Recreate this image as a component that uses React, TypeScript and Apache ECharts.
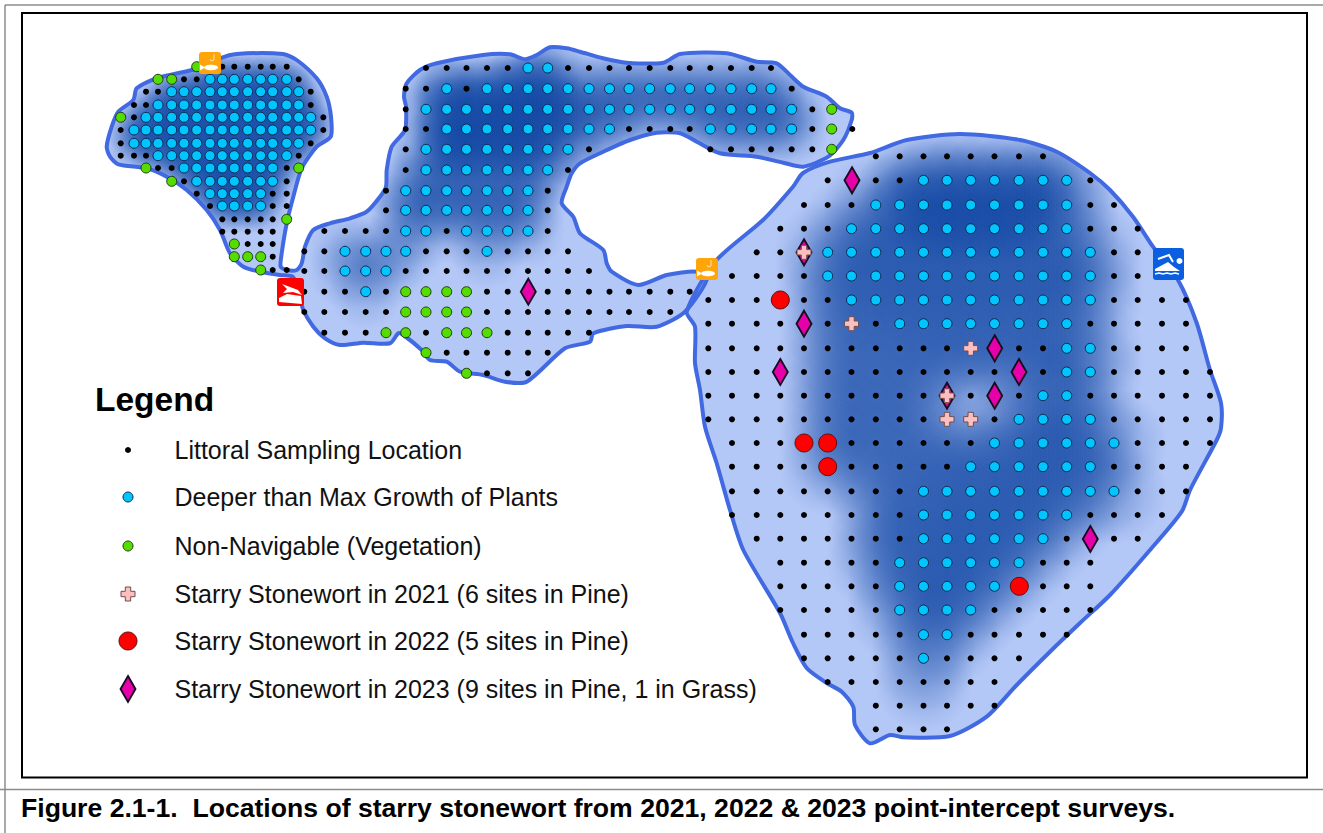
import React, { useEffect, useRef } from "react";
import * as echarts from "echarts";

const westX = [120.7, 134, 146, 158, 171.7, 184, 196.7, 210, 222.3, 234.3, 247.7, 260.7, 272.7, 286.7, 298.7, 310.7, 323.3];
const westY = [66.7, 79.3, 91.7, 105, 117.3, 130, 143.3, 155.7, 168, 181.3, 193.7, 206, 219.3, 231.7, 244, 256.7, 270];
const westBlackRuns = [[0, 8, 13], [1, 5, 6], [1, 14, 14], [2, 2, 3], [2, 15, 15], [3, 1, 2], [3, 15, 15], [4, 1, 1], [4, 16, 16], [5, 0, 0], [5, 16, 16], [6, 0, 0], [6, 15, 15], [7, 0, 2], [7, 14, 14], [8, 3, 4], [8, 13, 13], [9, 5, 5], [9, 13, 13], [10, 6, 6], [10, 12, 13], [11, 7, 7], [11, 12, 13], [12, 8, 12], [13, 8, 12], [14, 10, 12], [15, 12, 12], [16, 12, 13]];
const westCyanRuns = [[1, 7, 13], [2, 4, 14], [3, 3, 14], [4, 2, 15], [5, 1, 15], [6, 1, 14], [7, 3, 13], [8, 5, 12], [9, 6, 12], [10, 7, 11], [11, 8, 11]];
const westGreenRuns = [[0, 6, 6], [1, 3, 4], [4, 0, 0], [8, 2, 2], [8, 14, 14], [9, 4, 4], [12, 13, 13], [14, 9, 9], [15, 9, 11], [16, 11, 11]];

const midX = [304.3, 324.3, 345, 365.7, 386, 405.7, 426, 446.7, 466.5, 487, 507.7, 528, 547.7, 568, 589, 609.5, 629, 649.7, 670.3, 689.7, 710.3, 731, 751.7, 771, 791.7, 812.3, 831.7, 852.3];
const midY = [68, 88.7, 109.3, 129, 149.3, 170, 190.7, 210.3, 231, 251.3, 271, 291.7, 312, 332.7, 352.7, 373.3];
const midBlackRuns = [[0, 6, 10], [0, 13, 23], [1, 5, 6], [1, 8, 8], [1, 24, 24], [2, 5, 5], [2, 25, 25], [3, 5, 6], [3, 16, 19], [3, 25, 25], [3, 27, 27], [4, 5, 5], [4, 14, 14], [4, 20, 25], [5, 5, 5], [5, 13, 13], [6, 4, 4], [6, 12, 12], [7, 4, 4], [7, 12, 12], [8, 1, 4], [8, 7, 7], [8, 12, 12], [9, 0, 1], [9, 6, 8], [9, 10, 13], [10, 0, 1], [10, 5, 14], [11, 0, 2], [11, 4, 4], [11, 9, 10], [11, 12, 19], [12, 0, 4], [12, 9, 18], [13, 1, 3], [13, 6, 6], [13, 10, 14], [14, 7, 12], [15, 9, 11]];
const midCyanUpperRuns = [[0, 11, 12], [1, 7, 7], [1, 9, 23], [2, 6, 24], [3, 7, 15], [3, 20, 24], [4, 6, 13], [5, 6, 12], [6, 5, 11], [7, 5, 11]];
const midCyanLowerRuns = [[8, 5, 6], [8, 8, 11], [9, 2, 5], [9, 9, 9], [10, 2, 4], [11, 3, 3]];
const midDeepRuns = [[1, 7, 12], [2, 7, 13], [3, 7, 12], [4, 7, 11]];
const midGreenRuns = [[2, 26, 26], [3, 26, 26], [4, 26, 26], [11, 5, 8], [12, 5, 8], [13, 4, 5], [13, 7, 9], [14, 6, 6], [15, 8, 8]];

const eastX = [708.3, 732, 756.7, 780.3, 804, 827.7, 851.5, 875.8, 899.7, 923.5, 947, 970.7, 994.5, 1019, 1043, 1066.7, 1090.3, 1114, 1137.7, 1162, 1186, 1210];
const eastY = [156.3, 180.3, 205, 228.7, 252.3, 276, 300, 323.7, 348.3, 372, 395.7, 419.3, 443, 466.7, 491.3, 515, 538.7, 562.7, 586.3, 610, 634.7, 658.3, 682, 705.7, 729.3];
const eastBlackRuns = [[0, 7, 14], [1, 5, 5], [1, 7, 8], [1, 16, 16], [2, 4, 6], [2, 16, 17], [3, 3, 5], [3, 16, 18], [4, 2, 3], [4, 17, 18], [5, 1, 4], [5, 17, 18], [6, 0, 2], [6, 4, 5], [6, 17, 20], [7, 0, 3], [7, 5, 5], [7, 7, 7], [7, 16, 20], [8, 0, 10], [8, 13, 14], [8, 17, 20], [9, 0, 2], [9, 4, 12], [9, 14, 14], [9, 17, 21], [10, 0, 9], [10, 11, 11], [10, 13, 13], [10, 16, 21], [11, 0, 9], [11, 12, 12], [11, 17, 21], [12, 1, 3], [12, 6, 11], [12, 18, 21], [13, 1, 4], [13, 6, 10], [13, 17, 20], [14, 1, 8], [14, 18, 20], [15, 1, 8], [15, 16, 19], [16, 2, 8], [16, 15, 15], [16, 17, 18], [17, 3, 7], [17, 14, 16], [18, 3, 7], [18, 14, 16], [19, 3, 7], [19, 12, 16], [20, 4, 8], [20, 11, 15], [21, 4, 8], [21, 10, 13], [22, 5, 12], [23, 7, 12], [24, 7, 10]];
const eastCyanRuns = [[1, 9, 15], [2, 7, 15], [3, 6, 15], [4, 5, 16], [5, 5, 16], [6, 6, 16], [7, 8, 15], [8, 15, 16], [9, 15, 16], [10, 14, 15], [11, 13, 16], [12, 12, 17], [13, 11, 16], [14, 9, 17], [15, 9, 15], [16, 9, 14], [17, 8, 13], [18, 8, 12], [19, 8, 11], [20, 9, 10], [21, 9, 9]];
const eastMidDepthRuns = [[6, 5, 5], [7, 5, 7], [8, 5, 14], [9, 5, 14], [10, 5, 9], [11, 5, 9], [12, 5, 11], [13, 5, 10], [14, 7, 8], [15, 7, 8], [16, 7, 8], [17, 7, 7], [22, 9, 9]];
const eastDeepRuns = [[1, 8, 14], [2, 8, 14], [3, 9, 13]];

const starry2021 = [[804, 252.3], [851.5, 323.7], [970.7, 348.3], [947, 395.7], [947, 419.3], [970.7, 419.3]];
const starry2022 = [[780.3, 300], [804, 443], [827.7, 443], [827.7, 466.7], [1019.3, 586.3]];
const starry2023 = [[804, 252.3], [852, 180.3], [804, 323.7], [780.3, 372], [994.7, 348.3], [1019, 372], [947, 395.7], [994.7, 395.7], [1090.3, 539], [528.3, 291.7]];

const legendNames = [
  "Littoral Sampling Location",
  "Deeper than Max Growth of Plants",
  "Non-Navigable (Vegetation)",
  "Starry Stonewort in 2021 (6 sites in Pine)",
  "Starry Stonewort in 2022 (5 sites in Pine)",
  "Starry Stonewort in 2023 (9 sites in Pine, 1 in Grass)",
];
const legendY = [450, 497, 546, 594, 641, 689];
const legendMarkerX = 128;

const westMidShore = [[200, 68], [220, 58.3], [236.7, 54], [283, 54], [296.7, 60], [316.7, 78.3], [326.7, 96.7], [331, 116.7], [330.7, 136.7], [316.7, 146.7], [301.7, 168.3], [293.3, 196.7], [286.7, 223.3], [281.7, 253.3], [280.7, 266.7], [286.7, 270], [296.7, 270], [301.7, 263.3], [305, 246.7], [313.3, 230], [330, 223.3], [350, 218.3], [366.7, 211.7], [380, 196.7], [386, 186.7], [386.7, 170], [391.7, 146.7], [405, 130], [406, 106.7], [404, 96.7], [406.7, 83.3], [420, 70], [436.7, 63.3], [483, 55], [510, 54.3], [525, 59.3], [536.7, 55], [550, 47.3], [566.7, 48.3], [580, 51.7], [603, 58.3], [626.7, 62.7], [663.3, 62.7], [680, 54], [726.7, 53.3], [756.7, 61.7], [776.7, 63.3], [790, 75], [803.3, 86.7], [826.7, 96.7], [840, 108.3], [851.7, 112.7], [851.7, 120], [843.3, 140], [828.3, 156.7], [803.3, 166.7], [783.3, 162.7], [756.7, 156.7], [720, 153.3], [696.7, 141.7], [680, 133.3], [656.7, 132.7], [630, 140], [603.3, 151.7], [580, 163.3], [571.7, 173.3], [566.7, 186.7], [561.7, 203.3], [573.3, 216.7], [580, 233.3], [603.3, 250], [606.7, 263.3], [611.7, 271.7], [638.3, 285], [666.7, 275], [696.7, 271.7], [707, 279], [685, 311.7], [656.7, 326.7], [626.7, 326], [593.3, 333.3], [590, 341.7], [565, 348.3], [526.7, 381.7], [505, 381.7], [483.3, 375], [460, 371.7], [446.7, 361.7], [430, 360], [421.7, 350], [403.3, 335], [398.3, 333.3], [390, 343.3], [363.3, 342.7], [340, 345], [325, 338.3], [313.3, 326.7], [303.3, 310], [298, 290], [293, 277], [280, 275], [260, 271.7], [243.3, 266.7], [230, 253.3], [220, 230], [206.7, 210], [186.7, 190], [166.7, 176.7], [146.7, 168.3], [118.3, 164.3], [110, 156.7], [106.7, 146.7], [111.7, 126.7], [118.3, 111.7], [133.3, 100], [136.7, 88.3], [156.7, 78.3]];
const eastShore = [[686.7, 311.7], [695, 326.7], [695, 363], [700, 390], [705, 426.7], [716.7, 463.3], [730, 510], [743.3, 550], [780, 613], [793, 643], [806.7, 668], [826.7, 683], [841.7, 691.7], [853.3, 706.7], [855, 725], [870, 743.3], [890, 735], [903.3, 737.3], [950, 736], [986.7, 716.7], [1016.7, 685], [1050, 651.7], [1080, 623], [1110, 595], [1150, 550], [1181.7, 511.7], [1190, 490], [1216.7, 440], [1221, 428], [1221, 403], [1210, 370], [1196.7, 323], [1178, 280], [1153, 246.7], [1133, 216.7], [1110, 190], [1090, 173], [1056.7, 151.7], [1020, 140], [960, 134], [906.7, 140], [870, 153], [830, 161.7], [803, 173], [793, 186.7], [763, 220], [715, 261.7]];

const expand = (xs: number[], ys: number[], runs: number[][]) => {
  const out: number[][] = [];
  runs.forEach(([r, a, b]) => {
    for (let c = a; c <= b; c++) out.push([xs[c], ys[r]]);
  });
  return out;
};

const blackPts = [...expand(westX, westY, westBlackRuns), ...expand(midX, midY, midBlackRuns), ...expand(eastX, eastY, eastBlackRuns)];
const cyanPts = [...expand(westX, westY, westCyanRuns), ...expand(midX, midY, midCyanUpperRuns), ...expand(midX, midY, midCyanLowerRuns), ...expand(eastX, eastY, eastCyanRuns)];
const greenPts = [...expand(westX, westY, westGreenRuns), ...expand(midX, midY, midGreenRuns)];

const glow = (a: number, rgb = "10,65,160") =>
  new echarts.graphic.RadialGradient(0.5, 0.5, 0.5, [
    { offset: 0, color: `rgba(${rgb},${a})` },
    { offset: 0.55, color: `rgba(${rgb},${a * 0.62})` },
    { offset: 1, color: `rgba(${rgb},0)` },
  ]);

const shadeGroups = [
  { pts: expand(westX, westY, westCyanRuns), r: 28, a: 0.3, shore: 0 },
  { pts: expand(midX, midY, midCyanUpperRuns), r: 38, a: 0.28, shore: 0 },
  { pts: expand(midX, midY, midCyanLowerRuns), r: 38, a: 0.17, shore: 0 },
  { pts: expand(midX, midY, midDeepRuns), r: 34, a: 0.3, shore: 0 },
  { pts: expand(eastX, eastY, eastCyanRuns), r: 54, a: 0.22, shore: 1 },
  { pts: expand(eastX, eastY, eastMidDepthRuns), r: 50, a: 0.2, shore: 1 },
  { pts: expand(eastX, eastY, eastDeepRuns), r: 40, a: 0.2, shore: 1 },
];
const shores = [westMidShore, eastShore];

const App = () => {
  const ref = useRef<HTMLDivElement>(null);
  useEffect(() => {
    const chart = echarts.init(ref.current!, null, { renderer: "svg" });
    const shoreSeries = (z: number, style: any, name: string) => ({
      type: "custom",
      name,
      coordinateSystem: "cartesian2d",
      z,
      silent: true,
      clip: false,
      data: [[0], [1]],
      renderItem: (_: any, api: any) => ({
        type: "polygon",
        shape: { points: shores[api.value(0)].map((p) => api.coord(p)), smooth: 0.25 },
        style,
      }),
    });
    const iconBase = (x: number, y: number, w: number, h: number, fill: string, children: any[]) => ({
      type: "group",
      x,
      y,
      z: 60,
      children: [{ type: "rect", shape: { x: 0, y: 0, width: w, height: h, r: 3 }, style: { fill }, z: 60 }, ...children.map((c) => ({ ...c, z: 61 }))],
    });
    const fishIcon = (x: number, y: number) =>
      iconBase(x, y, 22, 22, "#FFA50A", [
        { type: "ellipse", shape: { cx: 12, cy: 15.5, rx: 7, ry: 2.8 }, style: { fill: "#fff" } },
        { type: "polygon", shape: { points: [[1, 12.5], [6, 15.5], [1, 18.5]] }, style: { fill: "#fff" } },
        { type: "polyline", shape: { points: [[15, 2], [15, 8], [12, 9], [11, 7]] }, style: { stroke: "#FFE3A8", fill: "none", lineWidth: 1 } },
      ]);
    chart.setOption({
      animation: false,
      backgroundColor: "#ffffff",
      grid: { left: 0, right: 0, top: 0, bottom: 0 },
      xAxis: { type: "value", min: 0, max: 1323, show: false },
      yAxis: { type: "value", min: 0, max: 833, inverse: true, show: false },
      graphic: [
        { type: "line", shape: { x1: 5, y1: 5, x2: 1323, y2: 5 }, style: { stroke: "#8c8c8c", lineWidth: 1.5 } },
        { type: "line", shape: { x1: 5, y1: 5, x2: 5, y2: 833 }, style: { stroke: "#8c8c8c", lineWidth: 1.5 } },
        { type: "line", shape: { x1: 0, y1: 789.5, x2: 1323, y2: 789.5 }, style: { stroke: "#8c8c8c", lineWidth: 1.5 } },
        { type: "rect", shape: { x: 22, y: 13, width: 1285, height: 764.5 }, style: { fill: "none", stroke: "#000", lineWidth: 2 } },
        fishIcon(199, 52),
        fishIcon(696, 258),
        iconBase(277, 278, 27, 28, "#FF0000", [
          { type: "polygon", shape: { points: [[5, 6], [21, 12], [25, 17], [16, 14], [6, 15], [10, 11]] }, style: { fill: "#fff" } },
          { type: "polygon", shape: { points: [[2, 20], [10, 16], [24, 18], [25, 26], [2, 24]] }, style: { fill: "#fff" } },
        ]),
        iconBase(1153, 248, 31, 32, "#0A5FE0", [
          { type: "polyline", shape: { points: [[5, 11], [16, 7], [20, 14]] }, style: { stroke: "#fff", fill: "none", lineWidth: 2 } },
          { type: "circle", shape: { cx: 26.5, cy: 13, r: 3 }, style: { fill: "#fff" } },
          { type: "polygon", shape: { points: [[2, 21], [15, 14], [21, 19], [27, 23], [2, 23]] }, style: { fill: "#fff" } },
          { type: "polyline", shape: { points: [[2, 26], [6, 25], [10, 26], [14, 25], [18, 26], [22, 25], [26, 26]] }, style: { stroke: "#fff", fill: "none", lineWidth: 1.5 } },
        ]),
        { type: "text", x: 95, y: 399, style: { text: "Legend", font: "bold 33.5px 'Liberation Sans'", fill: "#000", textVerticalAlign: "middle" } },
        ...legendNames.map((t, i) => ({
          type: "text",
          x: 174.5,
          y: legendY[i],
          style: { text: t, font: "25px 'Liberation Sans'", fill: "#111", textVerticalAlign: "middle" },
        })),
        {
          type: "text",
          x: 21,
          y: 808,
          style: {
            text: "Figure 2.1-1.  Locations of starry stonewort from 2021, 2022 & 2023 point-intercept surveys.",
            font: "bold 26.6px 'Liberation Sans'",
            fill: "#000",
            textVerticalAlign: "middle",
          },
        },
      ],
      series: [
        shoreSeries(1, { fill: "#B4C8F7", stroke: "none" }, "Lake"),
        {
          type: "custom",
          name: "Depth",
          coordinateSystem: "cartesian2d",
          z: 2,
          silent: true,
          clip: false,
          data: [[0], [1]],
          renderItem: (_: any, api: any) => {
            const shore = api.value(0);
            const children: any[] = [];
            shadeGroups
              .filter((g) => g.shore === shore)
              .forEach((g) => {
                const fill = glow(g.a);
                g.pts.forEach((p) => {
                  const c = api.coord(p);
                  children.push({ type: "circle", shape: { cx: c[0], cy: c[1], r: g.r }, style: { fill } });
                });
              });
            return {
              type: "group",
              clipPath: { type: "polygon", shape: { points: shores[shore].map((p) => api.coord(p)), smooth: 0.25 } },
              children,
            };
          },
        },
        shoreSeries(3, { fill: "none", stroke: "#4169E1", lineWidth: 4, lineJoin: "round" }, "Shoreline"),
        {
          type: "scatter",
          name: legendNames[0],
          z: 5,
          symbolSize: 6,
          itemStyle: { color: "#000", opacity: 1 },
          data: [...blackPts, [legendMarkerX, legendY[0]]],
        },
        {
          type: "scatter",
          name: legendNames[1],
          z: 6,
          symbolSize: 10,
          itemStyle: { color: "#00C5FF", borderColor: "#0a2a50", borderWidth: 1, opacity: 1 },
          data: [...cyanPts, [legendMarkerX, legendY[1]]],
        },
        {
          type: "scatter",
          name: legendNames[2],
          z: 6,
          symbolSize: 10,
          itemStyle: { color: "#55DD00", borderColor: "#1f3a10", borderWidth: 1, opacity: 1 },
          data: [...greenPts, [legendMarkerX, legendY[2]]],
        },
        {
          type: "scatter",
          name: legendNames[5],
          z: 7,
          symbol: "diamond",
          symbolSize: [15, 26],
          itemStyle: { color: "#E600A9", borderColor: "#1a0a20", borderWidth: 2, opacity: 1 },
          data: [...starry2023, [legendMarkerX, legendY[5]]],
        },
        {
          type: "scatter",
          name: legendNames[4],
          z: 7,
          symbolSize: 18,
          itemStyle: { color: "#FF0000", borderColor: "#5a1010", borderWidth: 1, opacity: 1 },
          data: [...starry2022, [legendMarkerX, legendY[4]]],
        },
        {
          type: "scatter",
          name: legendNames[3],
          z: 8,
          symbol: "path://M4 0H9V4H13V9H9V13H4V9H0V4H4Z",
          symbolSize: 14,
          itemStyle: { color: "#FFBEBE", borderColor: "#6b5050", borderWidth: 1, opacity: 1 },
          data: [...starry2021, [legendMarkerX, legendY[3]]],
        },
      ],
    });
    return () => chart.dispose();
  }, []);
  return <div ref={ref} style={{ position: "absolute", left: 0, top: 0, width: 1323, height: 833 }} />;
};

export default App;
